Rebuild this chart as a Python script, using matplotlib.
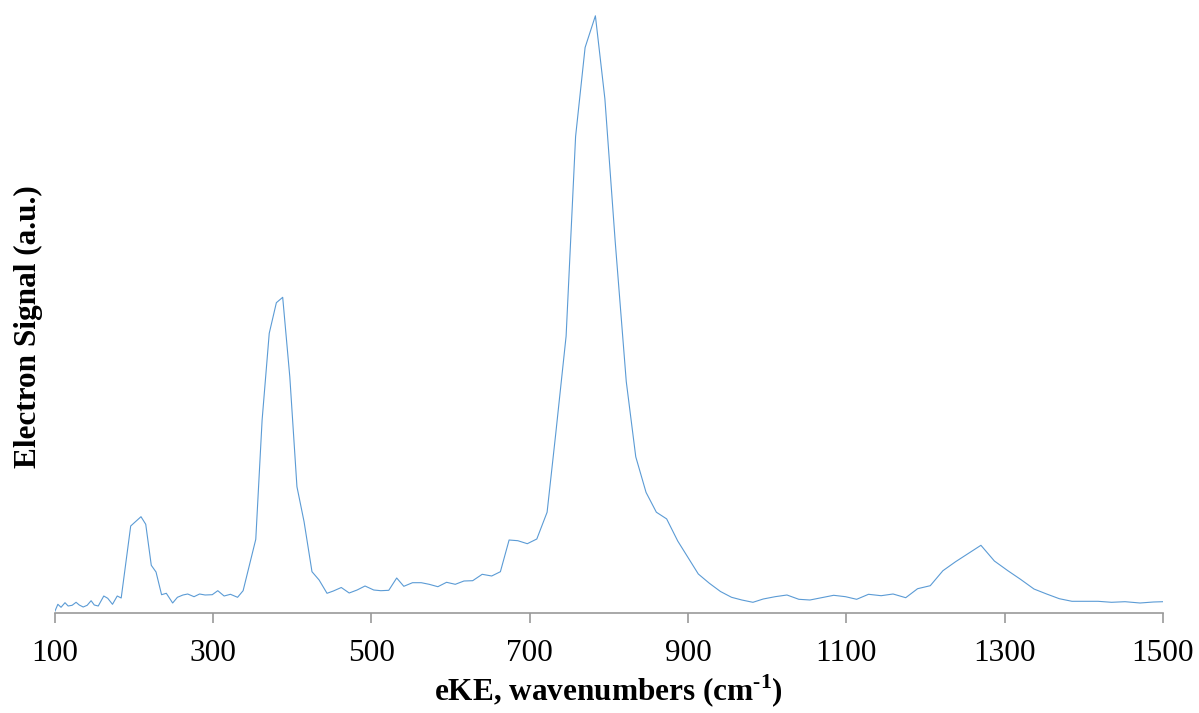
import numpy as np
import matplotlib
matplotlib.use('Agg')
from matplotlib import pyplot as plt

plt.rcParams['font.family'] = ['Liberation Serif', 'DejaVu Serif']
plt.rcParams['mathtext.fontset'] = 'custom'
plt.rcParams['mathtext.rm'] = 'Liberation Serif'
plt.rcParams['mathtext.bf'] = 'Liberation Serif:bold'

# eKE (cm-1) and electron signal (arbitrary units)
ekE = [100, 104, 108, 113, 117, 122, 127, 131, 136, 141, 146, 150, 155, 162, 167,
       173, 179, 184, 196, 209, 215, 222, 228, 235, 241, 249, 255, 262, 268, 276,
       283, 290, 299, 306, 314, 322, 331, 338, 354, 362, 371, 380, 388, 397, 406,
       415, 425, 434, 444, 452, 462, 472, 482, 492, 503, 512, 522, 532, 541, 552,
       563, 573, 584, 595, 606, 617, 628, 640, 652, 663, 674, 685, 697, 709, 722,
       733, 746, 758, 770, 783, 795, 808, 822, 834, 847, 860, 873, 887, 900, 913,
       927, 941, 955, 968, 982, 995, 1010, 1025, 1040, 1054, 1069, 1084, 1099, 1113, 1128,
       1144, 1159, 1175, 1190, 1206, 1222, 1238, 1253, 1270, 1287, 1304, 1320, 1337, 1353, 1369,
       1385, 1401, 1418, 1435, 1452, 1471, 1488, 1500]
signal = [1.3, 8.7, 5.7, 10.3, 7, 7.7, 10.7, 8, 6, 7.7, 12.3, 8, 7, 17, 14.7,
          8.7, 17, 15, 87, 96.3, 88.7, 47.7, 41, 18.3, 19.7, 10, 15.7, 18, 19, 16.3,
          19, 18, 18.3, 22.3, 17, 18.7, 15.7, 22.3, 73.7, 193, 279.7, 310.3, 315.7, 236, 126.3,
          91.3, 41.3, 33, 19.7, 22, 25.5, 20, 23, 27, 23, 22.3, 22.7, 35, 26.7, 30.3,
          30.3, 28.7, 26.3, 30.7, 28.7, 32, 32.3, 38.7, 37, 41.3, 73, 72.3, 69.3, 74, 100.8,
          180, 276.8, 476.6, 565.5, 597.2, 514.1, 371.7, 231.4, 156.2, 120.6, 100.8, 94.1, 72, 55.4, 39,
          29.7, 21.5, 15.7, 13, 10.7, 14, 16.3, 18, 13.7, 13, 15.3, 17.7, 16.3, 13.7, 18.7,
          17.3, 19, 15.3, 24.3, 27.3, 42.3, 51.3, 59, 67.7, 52, 42.3, 33.7, 24, 19, 14.3,
          11.7, 11.7, 11.7, 10.7, 11.3, 10, 11, 11.3]
xticks = [100, 300, 500, 700, 900, 1100, 1300, 1500]

fig = plt.figure(figsize=(11.99, 7.13), dpi=100)
ax = fig.add_axes([54.7 / 1199, 1 - 613 / 713, (1163 - 54.7) / 1199, 598 / 713])

ax.plot(ekE, signal, color='#5b9bd5', linewidth=0.8)

ax.set_xlim(100, 1500)
ax.set_ylim(0, 598)
ax.set_xticks(xticks)
ax.set_yticks([])

for s in ['top', 'right', 'left']:
    ax.spines[s].set_visible(False)
ax.spines['bottom'].set_color('#999999')
ax.spines['bottom'].set_linewidth(1.2)
ax.tick_params(axis='x', direction='out', length=7, width=1.2, color='#999999',
               labelsize=22.5, pad=12)

ax.set_xlabel(r'eKE, wavenumbers (cm$^{\mathbf{\text{-}1}}$)', fontsize=22.5,
              fontweight='bold', labelpad=3)
ax.set_ylabel('Electron Signal (a.u.)', fontsize=22.5, fontweight='bold')
ax.yaxis.set_label_coords(-0.0105, 0.479)

fig.savefig('out.png', dpi=100)
